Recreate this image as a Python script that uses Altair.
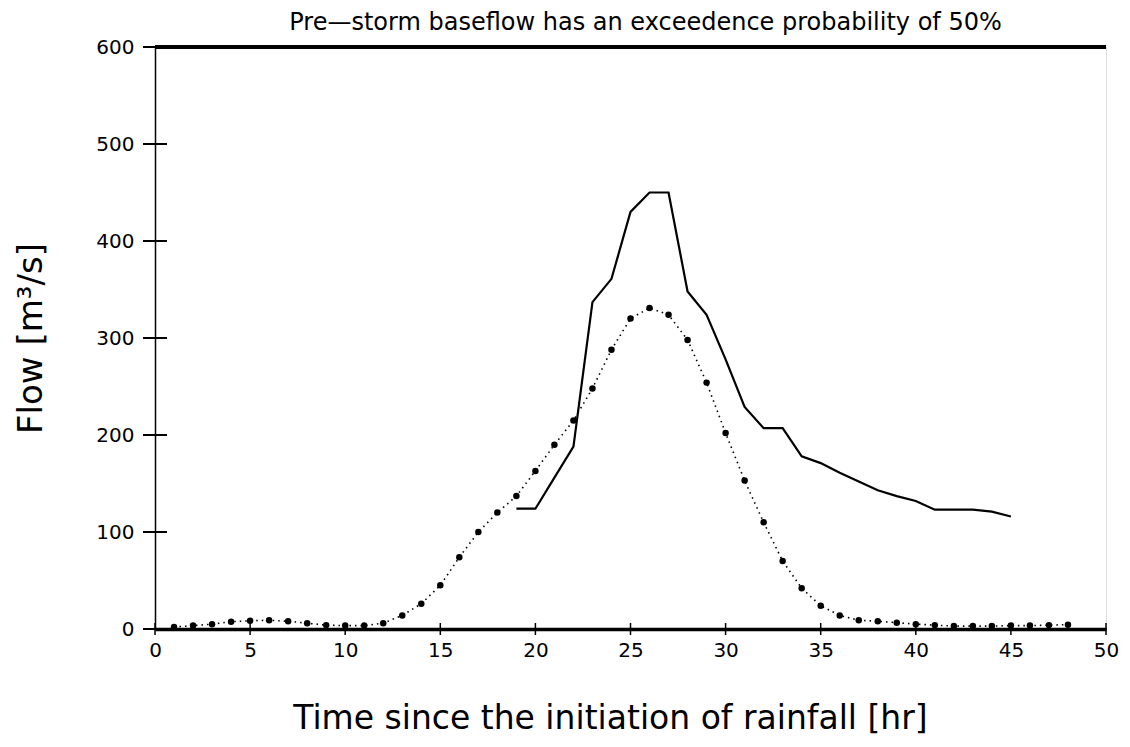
import altair as alt
import pandas as pd

# Dotted (model) series: hourly values
hours_model = list(range(1, 49))
flow_model = [2, 3.5, 5, 7.5, 8.5, 9, 8, 6, 4, 3.5, 3.5, 6, 14, 26, 45, 74, 100, 120,
              137, 163, 190, 215, 248, 288, 320, 331, 324, 298, 254, 202, 153, 110,
              70, 42, 24, 14, 9, 8, 6.5, 5, 4, 3, 3, 3, 3.5, 3.5, 4, 4.5]

# Solid (observed) series
hours_obs = list(range(19, 46))
flow_obs = [124, 124, 156, 188, 337, 361, 430, 450, 450, 348, 324, 278, 229, 207,
            207, 178, 171, 161, 152, 143, 137, 132, 123, 123, 123, 121, 116]

x_ticks = [0, 5, 10, 15, 20, 25, 30, 35, 40, 45, 50]
y_ticks = [0, 100, 200, 300, 400, 500, 600]

FONT = "DejaVu Sans"

model = pd.DataFrame({"hour": hours_model, "flow": flow_model})
obs = pd.DataFrame({"hour": hours_obs, "flow": flow_obs})
xt = pd.DataFrame({"v": x_ticks})
yt = pd.DataFrame({"v": y_ticks})

xs = alt.Scale(domain=[0, 50], nice=False, zero=False)
ys = alt.Scale(domain=[0, 600], nice=False)

x_axis = alt.Axis(values=x_ticks, ticks=False, labelPadding=11, labelFontSize=20,
                  labelFont=FONT, labelColor="black", labelFlush=False,
                  domainWidth=3.5, domainColor="black",
                  grid=False, title="Time since the initiation of rainfall [hr]",
                  titleFont=FONT, titleFontSize=33, titleFontWeight="normal",
                  titleColor="black", titleX=455, titleY=89, titleBaseline="middle",
                  titleAlign="center")
y_axis = alt.Axis(values=y_ticks, ticks=False, labelPadding=21, labelFontSize=20,
                  labelFont=FONT, labelColor="black", labelFlush=False,
                  domainWidth=1.5, domainColor="black",
                  grid=False, title="Flow [m³/s]", titleFont=FONT, titleFontSize=34,
                  titleFontWeight="normal", titleColor="black", titleAngle=-90,
                  titleX=-124, titleY=291, titleAlign="center", titleBaseline="middle")

model_line = alt.Chart(model).mark_line(color="black", strokeWidth=1.6,
                                        strokeDash=[1.5, 4]).encode(
    x=alt.X("hour:Q", scale=xs, axis=x_axis),
    y=alt.Y("flow:Q", scale=ys, axis=y_axis),
)
model_pts = alt.Chart(model).mark_point(filled=True, color="black", size=42,
                                        opacity=1).encode(
    x=alt.X("hour:Q", scale=xs),
    y=alt.Y("flow:Q", scale=ys),
)
obs_line = alt.Chart(obs).mark_line(color="black", strokeWidth=2.2).encode(
    x=alt.X("hour:Q", scale=xs),
    y=alt.Y("flow:Q", scale=ys),
)
top_rule = alt.Chart(yt).mark_rule(color="black", strokeWidth=3).encode(
    y=alt.datum(600)
)
ytick_marks = alt.Chart(yt).mark_tick(orient="horizontal", color="black",
                                      thickness=2, size=24, opacity=1).encode(
    y=alt.Y("v:Q", scale=ys),
    x=alt.datum(0),
)
xtick_marks = alt.Chart(xt).mark_tick(orient="vertical", color="black",
                                      thickness=1.5, size=12, opacity=1).encode(
    x=alt.X("v:Q", scale=xs),
    y=alt.datum(0),
)

chart = alt.layer(
    top_rule, ytick_marks, xtick_marks, model_line, model_pts, obs_line
).properties(
    width=951,
    height=582,
    autosize=alt.AutoSizeParams(type="none"),
    padding={"left": 147, "top": 39, "right": 16, "bottom": 106},
    title=alt.TitleParams(
        text="Pre—storm baseflow has an exceedence probability of 50%",
        font=FONT, fontSize=24, fontWeight="normal", color="black",
        anchor="middle", offset=2, dx=15,
    ),
).configure_view(stroke="black", strokeWidth=1.5).configure(background="white")

chart.save("out.html", embed_options={"renderer": "svg", "actions": False})
